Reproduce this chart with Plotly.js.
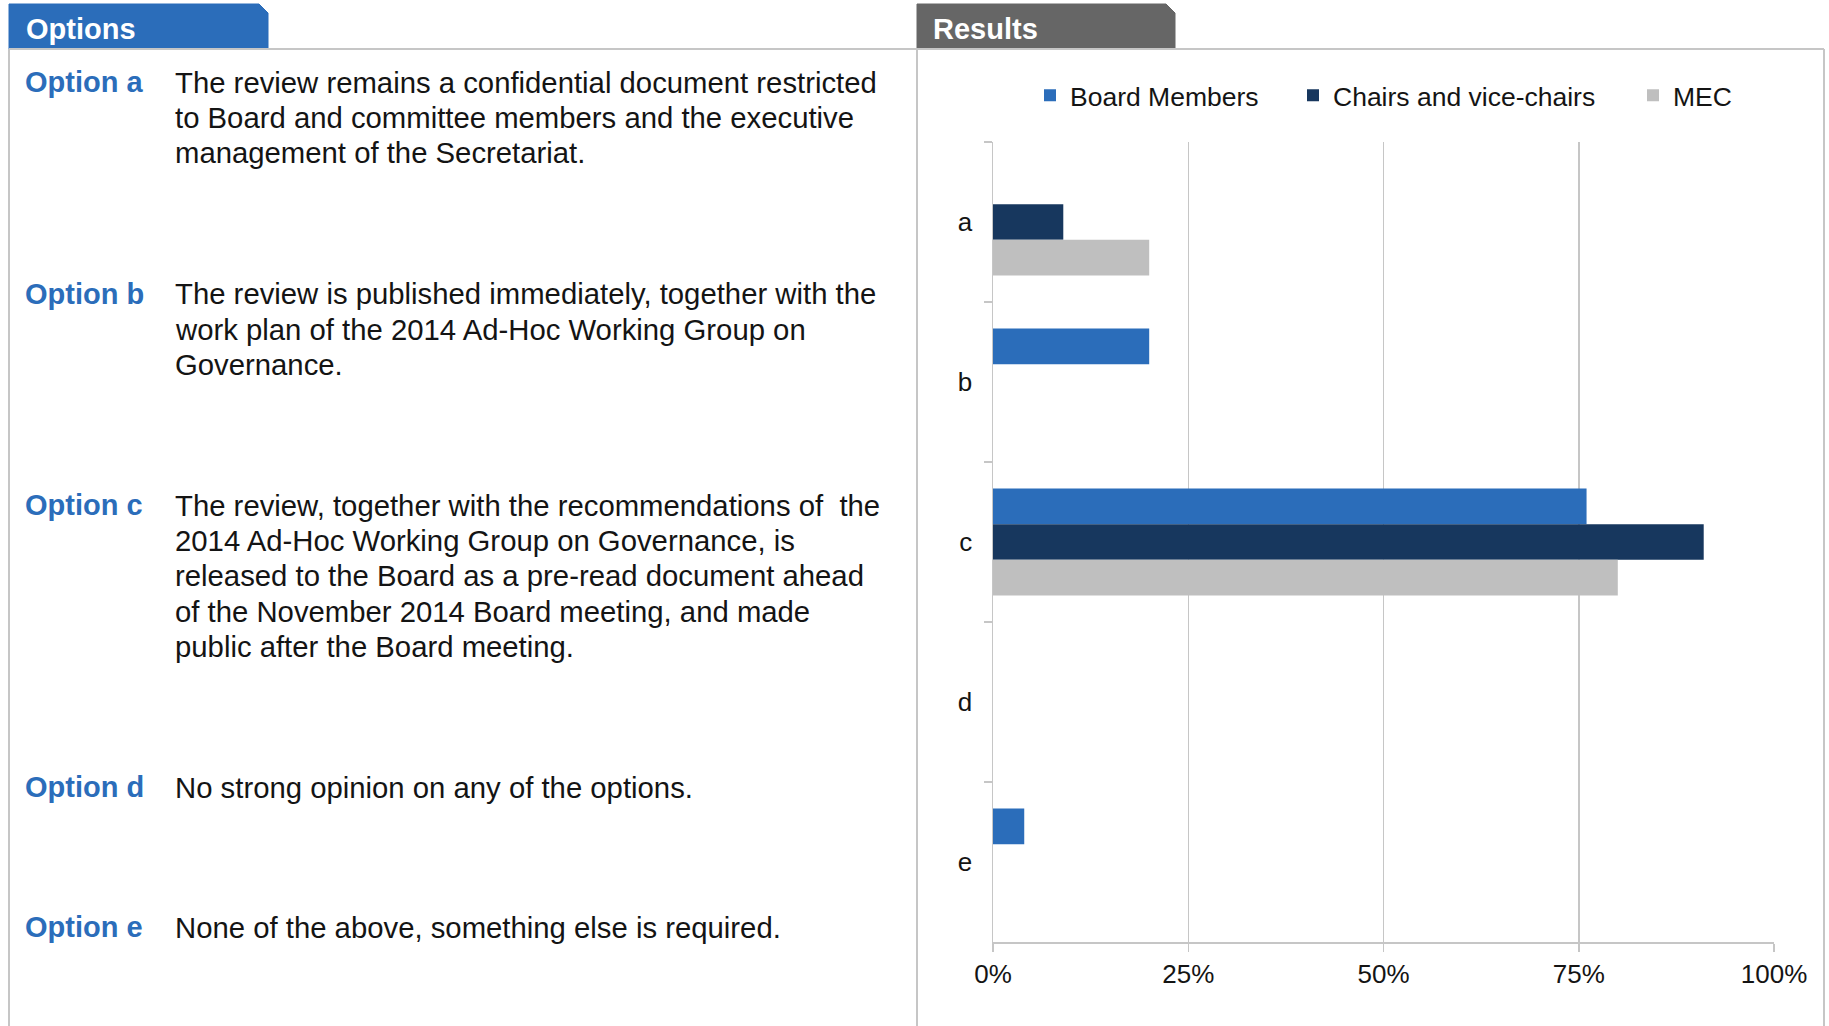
<!DOCTYPE html>
<html>
<head>
<meta charset="utf-8">
<script src="https://cdn.plot.ly/plotly-3.0.1.min.js"></script>
<style>html,body{margin:0;padding:0;background:#fff;}#chart{width:1829px;height:1026px;}</style>
</head>
<body>
<div id="chart"></div>
<script>
// ---- data ----
var categories = ['a', 'b', 'c', 'd', 'e'];
var seriesNames = ['Board Members', 'Chairs and vice-chairs', 'MEC'];
var boardMembers = [0, 20, 76, 0, 4];
var chairsViceChairs = [9, 0, 91, 0, 0];
var mec = [20, 0, 80, 0, 0];
var xTickValues = [0, 25, 50, 75, 100];
var xTickLabels = ['0%', '25%', '50%', '75%', '100%'];
var optionLabels = ['Option a', 'Option b', 'Option c', 'Option d', 'Option e'];
var optionTexts = [
  ['The review remains a confidential document restricted',
   'to Board and committee members and the executive',
   'management of the Secretariat.'],
  ['The review is published immediately, together with the',
   'work plan of the 2014 Ad-Hoc Working Group on',
   'Governance.'],
  ['The review, together with the recommendations of\u00a0 the',
   '2014 Ad-Hoc Working Group on Governance, is',
   'released to the Board as a pre-read document ahead',
   'of the November 2014 Board meeting, and made',
   'public after the Board meeting.'],
  ['No strong opinion on any of the options.'],
  ['None of the above, something else is required.']
];
var panelTitles = ['Options', 'Results'];

// ---- layout helpers (pixel -> paper) ----
var W = 1829, H = 1026;
function px(x) { return x / W; }
function py(y) { return 1 - y / H; }
var FONT = '"Liberation Sans", Arial, Helvetica, sans-serif';
var BLUE = '#2B6DBA', NAVY = '#17375E', GREY = '#BFBFBF', LINE = '#C6C6C6', INK = '#141414';

var optionTop = [82, 294, 505, 787, 927];
var lineStep = 35.4;

var annotations = [];
function addText(txt, x, y, size, color, bold) {
  annotations.push({
    text: bold ? '<b>' + txt + '</b>' : txt,
    xref: 'paper', yref: 'paper', x: px(x), y: py(y),
    xanchor: 'left', yanchor: 'middle', showarrow: false,
    font: {family: FONT, size: size, color: color}
  });
}
addText(panelTitles[0], 24, 29, 29, '#FFFFFF', true);
addText(panelTitles[1], 931, 29, 29, '#FFFFFF', true);
for (var i = 0; i < optionLabels.length; i++) {
  addText(optionLabels[i], 23, optionTop[i], 29, BLUE, true);
  for (var j = 0; j < optionTexts[i].length; j++) {
    addText(optionTexts[i][j], 173, optionTop[i] + j * lineStep, 29.3, INK, false);
  }
}

function seg(x0, y0, x1, y1) {
  return {type: 'line', xref: 'paper', yref: 'paper', x0: px(x0), y0: py(y0), x1: px(x1), y1: py(y1),
          line: {color: LINE, width: 2}, layer: 'below'};
}
function tab(xl, xr, color) {
  var p = 'M' + px(xl) + ',' + py(49) + ' L' + px(xl) + ',' + py(4) + ' L' + px(xr - 9) + ',' + py(4) +
          ' L' + px(xr) + ',' + py(13) + ' L' + px(xr) + ',' + py(49) + ' Z';
  return {type: 'path', xref: 'paper', yref: 'paper', path: p, fillcolor: color,
          line: {color: color, width: 1}, layer: 'below'};
}
var shapes = [
  tab(9, 268, BLUE),
  tab(917, 1175, '#666666'),
  seg(9, 49, 1824, 49),
  seg(9, 49, 9, 1026),
  seg(917, 49, 917, 1026),
  seg(1824, 49, 1824, 1026)
];

var colors = [BLUE, NAVY, GREY];
var values = [boardMembers, chairsViceChairs, mec];
var legendIds = ['legend', 'legend2', 'legend3'];
var traces = [];
for (var k = 0; k < 3; k++) {
  traces.push({
    type: 'bar', orientation: 'h', name: seriesNames[k],
    y: categories, x: values[k],
    marker: {color: colors[k], line: {width: 0}},
    legend: legendIds[k], hoverinfo: 'skip'
  });
}

var legendFont = {family: FONT, size: 26.5, color: INK};
function legendAt(x) {
  return {orientation: 'h', x: px(x), xanchor: 'left', y: py(95.5), yanchor: 'middle',
          font: legendFont, bgcolor: 'rgba(0,0,0,0)', borderwidth: 0, itemclick: false, itemdoubleclick: false};
}

var layout = {
  width: W, height: H,
  margin: {l: 0, r: 0, t: 0, b: 0, pad: 0},
  paper_bgcolor: '#FFFFFF', plot_bgcolor: 'rgba(0,0,0,0)',
  font: {family: FONT, size: 26, color: INK},
  barmode: 'group', bargap: 0.33, bargroupgap: 0,
  showlegend: true,
  legend: legendAt(1030),
  legend2: legendAt(1293),
  legend3: legendAt(1633),
  xaxis: {
    domain: [px(993), px(1774)], range: [0, 100], fixedrange: true,
    tickvals: xTickValues, ticktext: xTickLabels,
    showgrid: true, gridcolor: LINE, gridwidth: 1.5,
    showline: true, linecolor: LINE, linewidth: 1.5,
    ticks: 'outside', ticklen: 8, tickwidth: 1.5, tickcolor: LINE,
    zeroline: false,
    tickfont: {family: FONT, size: 26, color: INK}
  },
  yaxis: {
    domain: [py(942), py(142)], type: 'category', categoryorder: 'array', categoryarray: categories,
    autorange: 'reversed', fixedrange: true,
    showgrid: false, showline: true, linecolor: LINE, linewidth: 1.5,
    ticks: 'outside', tickson: 'boundaries', ticklen: 8, tickwidth: 1.5, tickcolor: LINE,
    ticklabelstandoff: 14,
    zeroline: false,
    tickfont: {family: FONT, size: 26, color: INK}
  },
  shapes: shapes,
  annotations: annotations
};

Plotly.newPlot('chart', traces, layout, {staticPlot: true, displayModeBar: false});
</script>
</body>
</html>
